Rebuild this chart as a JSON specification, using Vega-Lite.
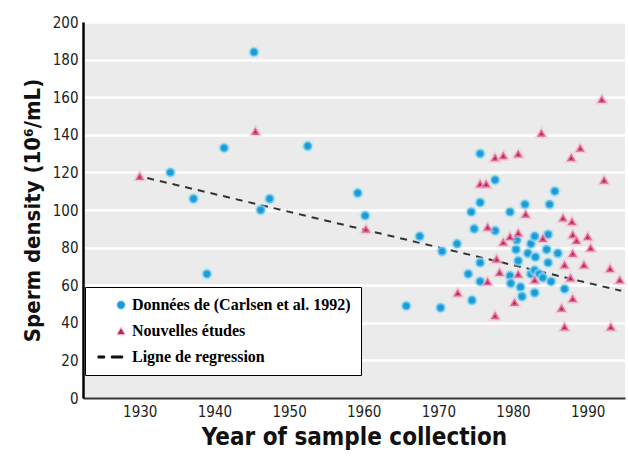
{
  "$schema": "https://vega.github.io/schema/vega-lite/v6.json",
  "width": 542,
  "height": 376,
  "autosize": {"type": "none"},
  "padding": {"left": 83, "top": 22, "right": 3, "bottom": 67},
  "background": "white",
  "view": {"fill": "#ebebeb", "stroke": null},
  "config": {
    "font": "DejaVu Sans Condensed",
    "axis": {
      "labelFont": "DejaVu Sans Condensed",
      "titleFont": "DejaVu Sans Condensed",
      "labelColor": "#222",
      "titleColor": "#111"
    }
  },
  "datasets": {
    "pts": [
      {"year": 1934.1, "density": 120, "series": "Données de (Carlsen et al. 1992)"},
      {"year": 1937.2, "density": 106, "series": "Données de (Carlsen et al. 1992)"},
      {"year": 1939.0, "density": 66, "series": "Données de (Carlsen et al. 1992)"},
      {"year": 1941.3, "density": 133, "series": "Données de (Carlsen et al. 1992)"},
      {"year": 1945.3, "density": 184, "series": "Données de (Carlsen et al. 1992)"},
      {"year": 1946.2, "density": 100, "series": "Données de (Carlsen et al. 1992)"},
      {"year": 1947.4, "density": 106, "series": "Données de (Carlsen et al. 1992)"},
      {"year": 1952.5, "density": 134, "series": "Données de (Carlsen et al. 1992)"},
      {"year": 1959.2, "density": 109, "series": "Données de (Carlsen et al. 1992)"},
      {"year": 1960.2, "density": 97, "series": "Données de (Carlsen et al. 1992)"},
      {"year": 1965.7, "density": 49, "series": "Données de (Carlsen et al. 1992)"},
      {"year": 1967.5, "density": 86, "series": "Données de (Carlsen et al. 1992)"},
      {"year": 1970.3, "density": 48, "series": "Données de (Carlsen et al. 1992)"},
      {"year": 1970.5, "density": 78, "series": "Données de (Carlsen et al. 1992)"},
      {"year": 1972.5, "density": 82, "series": "Données de (Carlsen et al. 1992)"},
      {"year": 1974.0, "density": 66, "series": "Données de (Carlsen et al. 1992)"},
      {"year": 1974.5, "density": 52, "series": "Données de (Carlsen et al. 1992)"},
      {"year": 1974.4, "density": 99, "series": "Données de (Carlsen et al. 1992)"},
      {"year": 1974.8, "density": 90, "series": "Données de (Carlsen et al. 1992)"},
      {"year": 1975.6, "density": 104, "series": "Données de (Carlsen et al. 1992)"},
      {"year": 1975.6, "density": 130, "series": "Données de (Carlsen et al. 1992)"},
      {"year": 1975.6, "density": 72, "series": "Données de (Carlsen et al. 1992)"},
      {"year": 1975.6, "density": 62, "series": "Données de (Carlsen et al. 1992)"},
      {"year": 1977.6, "density": 116, "series": "Données de (Carlsen et al. 1992)"},
      {"year": 1977.6, "density": 89, "series": "Données de (Carlsen et al. 1992)"},
      {"year": 1979.6, "density": 99, "series": "Données de (Carlsen et al. 1992)"},
      {"year": 1979.6, "density": 65, "series": "Données de (Carlsen et al. 1992)"},
      {"year": 1979.7, "density": 61, "series": "Données de (Carlsen et al. 1992)"},
      {"year": 1980.4, "density": 79, "series": "Données de (Carlsen et al. 1992)"},
      {"year": 1980.7, "density": 73, "series": "Données de (Carlsen et al. 1992)"},
      {"year": 1981.0, "density": 59, "series": "Données de (Carlsen et al. 1992)"},
      {"year": 1981.2, "density": 54, "series": "Données de (Carlsen et al. 1992)"},
      {"year": 1981.6, "density": 103, "series": "Données de (Carlsen et al. 1992)"},
      {"year": 1982.4, "density": 82, "series": "Données de (Carlsen et al. 1992)"},
      {"year": 1982.0, "density": 77, "series": "Données de (Carlsen et al. 1992)"},
      {"year": 1982.4, "density": 66, "series": "Données de (Carlsen et al. 1992)"},
      {"year": 1982.9, "density": 86, "series": "Données de (Carlsen et al. 1992)"},
      {"year": 1982.9, "density": 56, "series": "Données de (Carlsen et al. 1992)"},
      {"year": 1982.9, "density": 68, "series": "Données de (Carlsen et al. 1992)"},
      {"year": 1983.5, "density": 66, "series": "Données de (Carlsen et al. 1992)"},
      {"year": 1984.0, "density": 64, "series": "Données de (Carlsen et al. 1992)"},
      {"year": 1984.7, "density": 87, "series": "Données de (Carlsen et al. 1992)"},
      {"year": 1984.5, "density": 79, "series": "Données de (Carlsen et al. 1992)"},
      {"year": 1984.7, "density": 72, "series": "Données de (Carlsen et al. 1992)"},
      {"year": 1984.9, "density": 103, "series": "Données de (Carlsen et al. 1992)"},
      {"year": 1985.1, "density": 62, "series": "Données de (Carlsen et al. 1992)"},
      {"year": 1985.6, "density": 110, "series": "Données de (Carlsen et al. 1992)"},
      {"year": 1986.0, "density": 77, "series": "Données de (Carlsen et al. 1992)"},
      {"year": 1986.9, "density": 58, "series": "Données de (Carlsen et al. 1992)"},
      {"year": 1980.5, "density": 84, "series": "Données de (Carlsen et al. 1992)"},
      {"year": 1983.0, "density": 75, "series": "Données de (Carlsen et al. 1992)"},
      {"year": 1930.0, "density": 118, "series": "Nouvelles études"},
      {"year": 1945.5, "density": 142, "series": "Nouvelles études"},
      {"year": 1960.3, "density": 90, "series": "Nouvelles études"},
      {"year": 1972.6, "density": 56, "series": "Nouvelles études"},
      {"year": 1975.6, "density": 114, "series": "Nouvelles études"},
      {"year": 1976.4, "density": 114, "series": "Nouvelles études"},
      {"year": 1976.6, "density": 91, "series": "Nouvelles études"},
      {"year": 1976.6, "density": 62, "series": "Nouvelles études"},
      {"year": 1977.6, "density": 128, "series": "Nouvelles études"},
      {"year": 1977.6, "density": 44, "series": "Nouvelles études"},
      {"year": 1977.8, "density": 74, "series": "Nouvelles études"},
      {"year": 1978.2, "density": 67, "series": "Nouvelles études"},
      {"year": 1978.7, "density": 129, "series": "Nouvelles études"},
      {"year": 1978.7, "density": 83, "series": "Nouvelles études"},
      {"year": 1979.6, "density": 86, "series": "Nouvelles études"},
      {"year": 1980.2, "density": 51, "series": "Nouvelles études"},
      {"year": 1980.7, "density": 130, "series": "Nouvelles études"},
      {"year": 1980.7, "density": 88, "series": "Nouvelles études"},
      {"year": 1980.7, "density": 66, "series": "Nouvelles études"},
      {"year": 1981.7, "density": 98, "series": "Nouvelles études"},
      {"year": 1982.9, "density": 63, "series": "Nouvelles études"},
      {"year": 1983.8, "density": 141, "series": "Nouvelles études"},
      {"year": 1984.0, "density": 85, "series": "Nouvelles études"},
      {"year": 1986.5, "density": 48, "series": "Nouvelles études"},
      {"year": 1986.7, "density": 96, "series": "Nouvelles études"},
      {"year": 1986.9, "density": 71, "series": "Nouvelles études"},
      {"year": 1986.9, "density": 38, "series": "Nouvelles études"},
      {"year": 1987.7, "density": 64, "series": "Nouvelles études"},
      {"year": 1987.8, "density": 128, "series": "Nouvelles études"},
      {"year": 1987.9, "density": 94, "series": "Nouvelles études"},
      {"year": 1988.0, "density": 87, "series": "Nouvelles études"},
      {"year": 1988.0, "density": 77, "series": "Nouvelles études"},
      {"year": 1988.0, "density": 53, "series": "Nouvelles études"},
      {"year": 1989.0, "density": 133, "series": "Nouvelles études"},
      {"year": 1989.5, "density": 71, "series": "Nouvelles études"},
      {"year": 1990.0, "density": 86, "series": "Nouvelles études"},
      {"year": 1990.4, "density": 80, "series": "Nouvelles études"},
      {"year": 1991.9, "density": 159, "series": "Nouvelles études"},
      {"year": 1992.2, "density": 116, "series": "Nouvelles études"},
      {"year": 1993.0, "density": 69, "series": "Nouvelles études"},
      {"year": 1993.1, "density": 38, "series": "Nouvelles études"},
      {"year": 1994.3, "density": 63, "series": "Nouvelles études"},
      {"year": 1988.5, "density": 84, "series": "Nouvelles études"}
    ],
    "reg": [
      {"year": 1931.0, "density": 117},
      {"year": 1994.5, "density": 57}
    ]
  },
  "encoding": {
    "x": {
      "field": "year", "type": "quantitative",
      "scale": {"domain": [1922.4, 1995], "nice": false, "zero": false},
      "axis": {
        "values": [1930, 1940, 1950, 1960, 1970, 1980, 1990],
        "format": "d", "grid": false, "ticks": false,
        "domainColor": "#333", "domainWidth": 2,
        "labelFontSize": 15, "labelPadding": 6,
        "title": "Year of sample collection",
        "titleFontSize": 24, "titleFontWeight": "bold", "titlePadding": 6
      }
    },
    "y": {
      "field": "density", "type": "quantitative",
      "scale": {"domain": [0, 200], "nice": false},
      "axis": {
        "values": [0, 20, 40, 60, 80, 100, 120, 140, 160, 180, 200],
        "grid": true, "gridColor": "white", "gridWidth": 2.5,
        "ticks": false, "domainColor": "black", "domainWidth": 2.5,
        "labelFontSize": 15, "labelPadding": 5,
        "title": "Sperm density (10⁶/mL)",
        "titleFontSize": 22, "titleFontWeight": "bold", "titlePadding": 8
      }
    }
  },
  "layer": [
    {
      "data": {"name": "reg"},
      "mark": {"type": "line", "color": "#333", "strokeWidth": 2, "strokeDash": [7, 6]},
      "encoding": {}
    },
    {
      "data": {"name": "pts"},
      "mark": {"type": "point", "filled": true, "opacity": 1, "size": 80, "strokeWidth": 3, "strokeOpacity": 0.5},
      "encoding": {
        "fill": {
          "field": "series", "type": "nominal",
          "scale": {
            "domain": ["Données de (Carlsen et al. 1992)", "Nouvelles études", "Ligne de regression"],
            "range": ["#1c9ad6", "#c01f5c", "#111111"]
          },
          "legend": {
            "title": null,
            "orient": "none",
            "legendX": 2,
            "legendY": 265,
            "fillColor": "white",
            "strokeColor": "black",
            "padding": 10,
            "rowPadding": 10,
            "symbolSize": 70,
            "symbolOffset": 18,
            "symbolStrokeWidth": 1,
            "labelFont": "Liberation Serif",
            "labelFontSize": 16,
            "labelFontWeight": "bold",
            "labelColor": "black",
            "labelLimit": 300,
            "labelOffset": 3,
            "offset": 0
          }
        },
        "stroke": {
          "field": "series", "type": "nominal",
          "scale": {
            "domain": ["Données de (Carlsen et al. 1992)", "Nouvelles études", "Ligne de regression"],
            "range": ["#9fe3f8", "#f7b3cc", "#111111"]
          }
        },
        "shape": {
          "field": "series", "type": "nominal",
          "scale": {
            "domain": ["Données de (Carlsen et al. 1992)", "Nouvelles études", "Ligne de regression"],
            "range": ["circle", "triangle-up", "M-5.5,-0.25H-3.9V0.25H-5.5Z M-2.3,-0.25H0.4V0.25H-2.3Z"]
          }
        }
      }
    }
  ]
}
